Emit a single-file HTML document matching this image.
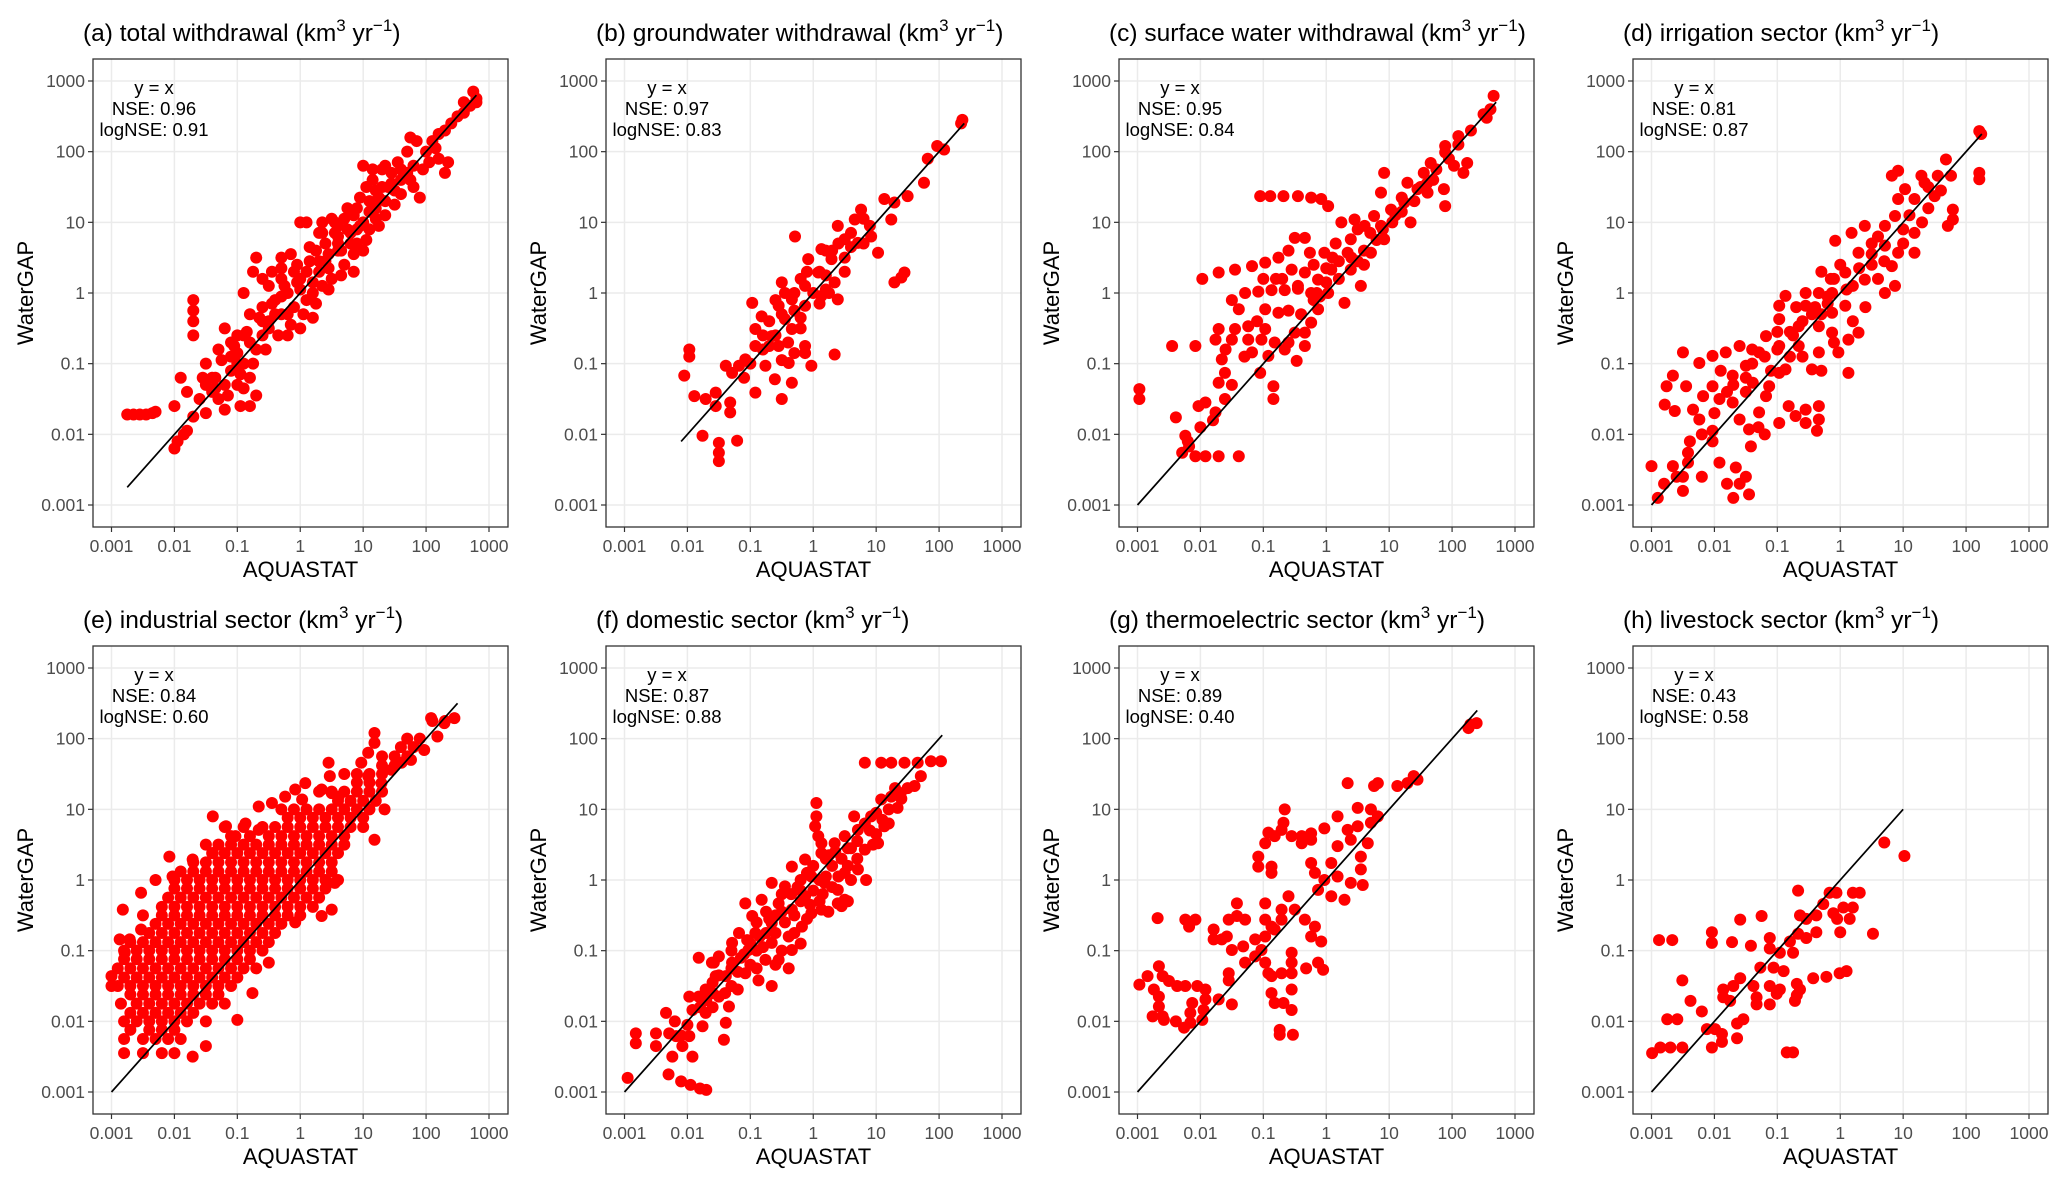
<!DOCTYPE html>
<html><head><meta charset="utf-8"><style>
html,body{margin:0;padding:0;background:#fff;}
svg{display:block;font-family:"Liberation Sans",Arial,sans-serif;}
</style></head><body>
<svg id="fig" width="2067" height="1184" viewBox="0 0 2067 1184" xmlns="http://www.w3.org/2000/svg"></svg>
<script>
// ---- data (log10 of AQUASTAT, log10 of WaterGAP) ----
const panelTitles = ["(a) total withdrawal","(b) groundwater withdrawal","(c) surface water withdrawal","(d) irrigation sector","(e) industrial sector","(f) domestic sector","(g) thermoelectric sector","(h) livestock sector"];
const nseValues = ["0.96","0.97","0.95","0.81","0.84","0.87","0.89","0.43"];
const logNseValues = ["0.91","0.83","0.84","0.87","0.60","0.88","0.40","0.58"];
const tickLabels = ["0.001","0.01","0.1","1","10","100","1000"];
const tickExponents = [-3,-2,-1,0,1,2,3];
const lineMin = [-2.75,-2.1,-3,-3,-3,-3,-3,-3];
const lineMax = [2.8,2.4,2.7,2.25,2.5,2.05,2.4,1.0];

const pointsA = [[2.75,2.85],[2.8,2.75],[2.7,2.65],[2.6,2.55],[2.5,2.5],[2.8,2.7],[2.2,2.25],[2.3,2.3],[2.1,2.15],[1.75,2.2],[1.85,2.15],[1.7,2.0],[2.05,1.85],[2.2,1.9],[2.35,1.85],[2.3,1.7],[1.95,1.75],[1.9,1.35],[1.0,1.8],[1.15,1.75],[1.3,1.75],[1.45,1.7],[1.6,1.6],[1.75,1.6],[1.4,1.5],[1.6,1.4],[1.8,1.5],[1.2,1.45],[1.05,1.5],[1.35,1.3],[1.5,1.25],[0.0,1.0],[0.1,1.0],[0.35,1.0],[0.5,1.05],[0.7,1.05],[0.85,1.1],[0.95,0.95],[0.8,0.85],[0.6,0.8],[0.4,0.7],[0.25,0.6],[0.45,0.55],[0.65,0.6],[0.9,0.7],[1.1,0.9],[1.2,1.05],[1.35,1.1],[1.0,0.6],[0.7,0.4],[0.85,0.3],[-0.3,0.5],[-0.15,0.55],[-0.45,0.3],[-0.3,0.2],[-0.1,0.3],[0.1,0.3],[0.2,0.15],[0.0,0.05],[-0.2,0.0],[-0.4,-0.1],[-0.6,0.2],[-0.6,-0.2],[-0.8,-0.3],[-0.5,-0.4],[-0.3,-0.3],[-0.1,-0.2],[0.1,-0.1],[0.2,-0.35],[0.0,-0.5],[-0.2,-0.6],[0.35,0.1],[0.5,0.2],[-0.7,0.5],[-0.75,0.3],[-0.9,0.0],[0.15,0.45],[-1.2,-0.5],[-1.0,-0.6],[-1.1,-0.9],[-1.3,-0.8],[-1.5,-1.0],[-1.4,-1.2],[-1.2,-1.3],[-0.9,-1.0],[-0.7,-0.8],[-0.8,-1.2],[-1.0,-1.3],[-1.3,-1.5],[-1.6,-1.5],[-1.8,-1.4],[-2.0,-1.6],[-1.7,-1.75],[-1.5,-1.7],[-1.2,-1.65],[-0.95,-1.6],[-1.9,-1.2],[-1.5,-1.3],[-1.35,-1.2],[-0.8,-1.6],[-1.7,-0.1],[-1.7,-0.25],[-1.7,-0.4],[-1.7,-0.6],[-1.95,-2.1],[-2.0,-2.2],[-1.85,-2.0],[-1.8,-1.95],[-2.75,-1.72],[-2.65,-1.72],[-2.55,-1.72],[-2.45,-1.72],[-2.35,-1.7],[-2.3,-1.68],[-0.9,-1.35],[-0.7,-1.45],[0.3,0.3],[0.6,0.6],[0.8,0.7],[1.0,1.0],[1.2,1.2],[1.5,1.45],[1.7,1.7],[-0.5,-0.5],[-0.8,-0.7],[-1.0,-1.0],[-0.6,-0.6],[0.45,0.35],[-0.2,-0.3],[1.1,1.3],[0.9,1.2],[1.3,1.5],[-1.1,-1.1],[-1.4,-1.4],[0.6,0.95],[0.3,0.85],[0.55,0.85],[0.75,0.9],[1.25,1.35],[1.45,1.55],[0.2,0.0],[-0.05,0.15],[0.4,0.45],[-0.4,-0.3],[-0.6,-0.4],[-0.9,-0.6],[-1.1,-0.7],[-0.3,-0.05],[-0.5,0.1],
[-1.0,-0.85],[-0.85,-0.55],[-0.65,-0.35],[-0.45,-0.15],[-0.25,0.1],[-0.05,0.4],[0.15,0.65],[0.35,0.85],[0.55,1.0],[0.75,1.2],[0.95,1.35],[1.15,1.6],[1.35,1.8],[1.55,1.85],[1.25,0.95],[1.05,0.75],[0.85,0.55],[0.65,0.25],[0.45,0.05],[0.25,-0.15],[0.05,-0.3],[-0.15,-0.45],[-0.35,-0.6],[-0.55,-0.8],[-0.75,-1.0],[-0.95,-1.15],[-1.15,-1.45],[-1.35,-1.35],[-1.55,-1.2],[-1.25,-0.95],[-1.05,-0.75],[-0.3,0.35],[0.0,0.2],[0.3,0.45],[0.6,0.7],[0.9,0.9],[1.1,1.15],[1.6,1.75],[1.8,1.8],[2.0,2.0],[2.15,2.05],[2.4,2.4],[2.6,2.7]];
const pointsB = [[2.37,2.45],[2.35,2.4],[1.97,2.08],[2.08,2.03],[1.82,1.9],[1.76,1.56],[1.5,1.37],[1.13,1.33],[1.29,1.28],[1.24,1.04],[0.76,1.18],[1.45,0.29],[1.29,0.15],[1.4,0.22],[0.66,1.04],[0.39,0.95],[0.5,0.76],[0.13,0.62],[-0.08,0.48],[0.29,0.48],[0.71,0.71],[0.92,0.8],[1.03,0.57],[-0.29,0.8],[0.08,0.29],[0.34,0.15],[0.39,-0.09],[-0.13,0.1],[-0.34,-0.09],[-0.5,0.15],[-0.55,-0.18],[-0.97,-0.14],[-0.82,-0.33],[-0.45,-0.37],[-0.13,-0.18],[0.13,-0.04],[-0.92,-0.51],[-0.66,-0.61],[-0.34,-0.51],[-0.13,-0.75],[-0.55,-0.75],[-0.92,-0.75],[-1.08,-0.94],[-0.76,-1.03],[-0.39,-0.99],[-0.03,-1.03],[0.34,-0.87],[-0.13,-0.85],[-1.29,-1.13],[-1.18,-1.03],[-0.92,-1.41],[-0.61,-1.22],[-0.34,-1.27],[-0.5,-1.5],[-1.97,-0.8],[-1.97,-0.9],[-2.05,-1.17],[-1.39,-1.03],[-1.89,-1.46],[-1.71,-1.5],[-1.55,-1.41],[-1.55,-1.6],[-1.32,-1.69],[-1.32,-1.55],[-1.76,-2.02],[-1.5,-2.12],[-1.5,-2.26],[-1.5,-2.38],[-1.21,-2.09],[-0.3,-0.25],[0.0,0.0],[0.2,0.25],[0.5,0.5],[-0.6,-0.6],[-1.0,-1.0],[-0.8,-0.8],[0.9,0.95],[0.6,0.65],[-0.2,-0.5],[-0.7,-0.4],[-0.3,0.0],[0.1,0.3],[-1.1,-1.2],[-0.4,-0.7],[-0.2,0.2],[0.2,0.05],[-0.6,-0.1],[-0.8,-0.6],[-0.5,-0.95],[0.3,0.6],[0.8,1.05],[0.5,0.3],
[-0.1,0.3],[0.2,0.6],[0.4,0.7],[0.6,0.85],[0.8,0.7],[-0.5,-0.3],[-0.2,-0.35],[-0.7,-0.75],[-0.3,-0.85],[0.1,-0.15],[0.25,0.0],[-0.45,0.0]];
const pointsC = [[2.66,2.79],[2.61,2.6],[2.55,2.48],[2.5,2.53],[2.1,2.22],[1.89,2.08],[1.89,1.99],[2.24,1.84],[2.03,1.8],[2.18,1.7],[1.66,1.84],[1.55,1.7],[1.29,1.56],[1.45,1.47],[1.61,1.42],[1.87,1.47],[1.89,1.23],[0.92,1.7],[0.87,1.42],[1.03,1.18],[1.24,1.28],[1.34,1.0],[0.76,1.09],[0.61,0.95],[0.87,0.95],[0.92,0.76],[0.71,0.57],[0.39,0.76],[0.34,0.57],[0.45,1.04],[0.24,1.0],[0.08,0.33],[0.39,0.33],[0.55,0.1],[0.29,-0.14],[0.03,0.0],[-0.13,-0.23],[-0.24,-0.42],[-0.34,-0.56],[-0.34,-0.75],[-0.5,-0.56],[-0.13,0.19],[-0.34,0.29],[-0.55,0.33],[-0.45,0.1],[-1.05,1.37],[-0.89,1.37],[-0.68,1.37],[-0.45,1.37],[-0.24,1.35],[-0.08,1.33],[0.03,1.23],[-0.5,0.78],[-0.34,0.78],[-0.26,0.57],[-0.03,0.57],[-1.97,0.2],[-1.71,0.29],[-1.45,0.33],[-1.18,0.38],[-0.97,0.43],[-0.76,0.5],[-1.29,0.0],[-1.08,0.02],[-0.87,0.04],[-0.66,0.04],[-0.45,0.06],[-0.24,0.0],[-1.39,-0.23],[-1.24,-0.47],[-0.97,-0.23],[-0.76,-0.28],[-0.97,-0.51],[-1.71,-0.51],[-1.45,-0.51],[-1.76,-0.66],[-1.5,-0.66],[-1.24,-0.66],[-1.03,-0.66],[-0.82,-0.7],[-0.6,-0.7],[-1.18,-0.84],[-0.92,-0.89],[-0.66,-0.8],[-2.45,-0.75],[-2.08,-0.75],[-1.66,-0.94],[-1.61,-1.13],[-1.71,-1.27],[-1.61,-1.5],[-1.76,-1.69],[-1.05,-1.13],[-0.84,-1.32],[-0.84,-1.5],[-0.47,-0.96],[-2.03,-1.6],[-1.92,-1.55],[-2.39,-1.76],[-2.97,-1.36],[-2.97,-1.5],[-2.24,-2.02],[-2.29,-2.26],[-2.08,-2.31],[-1.92,-2.31],[-1.71,-2.31],[-1.39,-2.31],[-2.18,-2.17],[1.1,1.1],[1.5,1.5],[1.7,1.6],[0.2,0.2],[-0.1,-0.05],[0.6,0.6],[1.2,1.35],[0.1,0.5],[-0.7,0.2],[-1.5,-0.1],[-0.2,0.4],[0.5,0.45],[0.15,0.7],[0.0,0.35],[-0.6,-0.25],[-1.6,-0.8],[-1.0,0.2],[-0.15,0.0],[0.8,0.75],
[0.9,0.9],[1.05,1.0],[1.2,1.15],[1.4,1.3],[1.6,1.55],[1.75,1.75],[1.95,1.9],[2.1,2.1],[2.3,2.3],[0.6,0.4],[0.4,0.5],[0.2,0.45],[0.0,0.15],[-0.2,-0.1],[-0.4,-0.3],[0.7,0.85],[0.5,0.9],[-0.6,0.6],[-0.8,0.2],[-1.1,-0.4],[-1.3,-0.9],[-1.5,-1.3],[-1.8,-1.8],[-2.0,-1.9],[-2.2,-2.1]];
const pointsD = [[2.21,2.29],[2.24,2.25],[2.21,1.7],[2.21,1.61],[1.68,1.89],[1.76,1.66],[1.55,1.66],[1.29,1.66],[0.92,1.73],[0.82,1.66],[1.03,1.47],[1.34,1.56],[1.5,1.37],[1.18,1.33],[0.92,1.33],[1.79,1.18],[1.79,1.04],[1.71,0.95],[0.87,1.09],[0.71,0.95],[0.39,0.95],[0.18,0.85],[-0.08,0.74],[1.18,0.85],[1.18,0.57],[0.92,0.57],[0.71,0.67],[0.82,0.38],[0.87,0.1],[0.71,0.0],[0.39,0.19],[0.29,0.57],[0.08,0.29],[-0.13,0.0],[-0.34,0.0],[-0.55,0.0],[-0.87,-0.04],[-0.97,-0.18],[-0.55,-0.18],[-0.13,-0.28],[0.08,-0.18],[0.29,-0.56],[0.13,-0.66],[0.13,-1.13],[-0.13,-0.56],[-0.34,-0.47],[-0.66,-0.47],[-0.97,-0.37],[-1.18,-0.61],[-1.29,-0.84],[-0.97,-0.75],[-0.66,-0.75],[-0.34,-0.84],[-0.03,-0.84],[-0.45,-1.08],[-0.87,-1.08],[-1.6,-0.75],[-1.82,-0.84],[-2.03,-0.89],[-2.24,-0.99],[-2.5,-0.84],[-1.5,-1.03],[-1.71,-1.17],[-1.39,-1.27],[-1.13,-1.32],[-0.97,-1.13],[-2.76,-1.32],[-2.45,-1.32],[-2.66,-1.17],[-2.79,-1.58],[-2.63,-1.67],[-2.34,-1.65],[-2.18,-1.46],[-2.03,-1.32],[-1.92,-1.5],[-1.71,-1.55],[-2.24,-1.79],[-1.6,-1.79],[-1.45,-1.93],[-1.42,-2.17],[-1.29,-1.69],[-1.18,-1.46],[-0.82,-1.6],[-0.97,-1.84],[-0.71,-1.74],[-0.55,-1.65],[-0.34,-1.6],[-0.34,-1.79],[-0.37,-1.95],[-0.55,-1.84],[-2.03,-1.95],[-2.03,-2.1],[-2.39,-2.1],[-2.42,-2.26],[-2.42,-2.4],[-3.0,-2.45],[-2.66,-2.45],[-1.92,-2.4],[-1.66,-2.47],[-2.9,-2.9],[-2.8,-2.7],[-2.5,-2.8],[-2.5,-2.6],[-2.2,-2.6],[-1.7,-2.9],[-1.6,-2.7],[-1.5,-2.6],[-1.45,-2.85],[-1.8,-2.7],[0.5,0.4],[0.2,0.1],[-0.3,-0.3],[-0.6,-0.4],[-1.0,-0.8],[-0.8,-0.9],[-1.4,-1.0],[-1.1,-1.1],[0.6,0.8],[1.0,0.9],[1.4,1.5],[0.0,0.4],[-0.3,0.3],[-1.2,-2.0],[-1.3,-1.9],[-0.2,-0.15],[-0.45,-0.3],[-0.75,-0.6],[-1.5,-1.4],[-1.7,-1.3],[-1.9,-1.1],[-0.15,0.2],[0.5,0.7],[1.4,1.2],[1.6,1.45],
[0.3,0.35],[0.5,0.55],[0.1,0.05],[-0.1,0.2],[-0.2,-0.05],[-0.4,-0.2],[-0.7,-0.2],[-0.8,-0.55],[-1.0,-0.55],[-1.2,-0.9],[-1.4,-0.8],[-1.5,-1.2],[-1.8,-1.4],[-2.0,-1.7],[-2.2,-2.0],[-2.6,-2.6],[0.7,0.45],[1.0,0.7],[1.1,1.1],[1.3,1.0],[0.6,0.2],[0.4,-0.2],[0.2,-0.4],[-0.1,-0.7],[-0.6,-0.9],[-0.3,-1.1]];
const pointsE = [[2.45,2.29],[2.29,2.22],[2.08,2.29],[2.18,2.03],[1.97,1.84],[1.76,1.7],[1.61,1.66],[1.45,1.56],[1.18,2.08],[1.18,1.94],[1.08,1.8],[0.97,1.66],[1.08,1.47],[1.29,1.37],[1.34,1.0],[1.18,0.57],[0.45,1.66],[0.47,1.47],[0.5,1.23],[0.34,1.28],[0.61,1.18],[0.08,1.37],[-0.08,1.28],[-0.24,1.18],[-0.45,1.09],[-0.66,1.04],[0.03,1.14],[-1.39,0.9],[-1.18,0.76],[-1.03,0.62],[-0.87,0.8],[-0.66,0.71],
[-0.3,1.0],[-0.1,1.0],[0.1,1.0],[0.3,1.0],[0.5,1.0],[0.7,1.0],[0.9,1.0],[1.1,1.0],
[-1.2,0.75],[-0.9,0.75],[-0.6,0.75],[-0.4,0.75],[-0.2,0.75],[0.0,0.75],[0.2,0.75],[0.4,0.75],[0.6,0.75],[0.8,0.75],[1.0,0.75],
[-1.5,0.5],[-1.3,0.5],[-1.1,0.5],[-0.9,0.5],[-0.7,0.5],[-0.5,0.5],[-0.3,0.5],[-0.1,0.5],[0.1,0.5],[0.3,0.5],[0.5,0.5],[0.7,0.5],
[-1.7,0.25],[-1.5,0.25],[-1.3,0.25],[-1.1,0.25],[-0.9,0.25],[-0.7,0.25],[-0.5,0.25],[-0.3,0.25],[-0.1,0.25],[0.1,0.25],[0.3,0.25],[0.5,0.25],
[-2.3,0.0],[-2.0,0.0],[-1.8,0.0],[-1.6,0.0],[-1.4,0.0],[-1.2,0.0],[-1.0,0.0],[-0.8,0.0],[-0.6,0.0],[-0.4,0.0],[-0.2,0.0],[0.0,0.0],[0.2,0.0],[0.4,0.0],[0.6,0.0],
[-2.1,-0.25],[-1.9,-0.25],[-1.7,-0.25],[-1.5,-0.25],[-1.3,-0.25],[-1.1,-0.25],[-0.9,-0.25],[-0.7,-0.25],[-0.5,-0.25],[-0.3,-0.25],[-0.1,-0.25],[0.1,-0.25],[0.3,-0.25],
[-2.5,-0.5],[-2.2,-0.5],[-2.0,-0.5],[-1.8,-0.5],[-1.6,-0.5],[-1.4,-0.5],[-1.2,-0.5],[-1.0,-0.5],[-0.8,-0.5],[-0.6,-0.5],[-0.4,-0.5],[-0.2,-0.5],[0.0,-0.5],
[-2.4,-0.75],[-2.2,-0.75],[-2.0,-0.75],[-1.8,-0.75],[-1.6,-0.75],[-1.4,-0.75],[-1.2,-0.75],[-1.0,-0.75],[-0.8,-0.75],[-0.6,-0.75],[-0.4,-0.75],
[-2.8,-1.0],[-2.6,-1.0],[-2.4,-1.0],[-2.2,-1.0],[-2.0,-1.0],[-1.8,-1.0],[-1.6,-1.0],[-1.4,-1.0],[-1.2,-1.0],[-1.0,-1.0],[-0.8,-1.0],[-0.6,-1.0],
[-2.9,-1.25],[-2.7,-1.25],[-2.5,-1.25],[-2.3,-1.25],[-2.1,-1.25],[-1.9,-1.25],[-1.7,-1.25],[-1.5,-1.25],[-1.3,-1.25],[-1.1,-1.25],[-0.9,-1.25],[-0.7,-1.25],
[-2.9,-1.5],[-2.7,-1.5],[-2.5,-1.5],[-2.3,-1.5],[-2.1,-1.5],[-1.9,-1.5],[-1.7,-1.5],[-1.5,-1.5],[-1.3,-1.5],[-1.1,-1.5],
[-2.85,-1.75],[-2.6,-1.75],[-2.4,-1.75],[-2.2,-1.75],[-2.0,-1.75],[-1.8,-1.75],[-1.6,-1.75],[-1.4,-1.75],[-1.2,-1.75],
[-2.8,-2.0],[-2.6,-2.0],[-2.4,-2.0],[-2.2,-2.0],[-2.0,-2.0],[-1.8,-2.0],[-1.5,-2.0],
[-2.8,-2.25],[-2.5,-2.25],[-2.3,-2.25],[-2.1,-2.25],[-1.9,-2.25],
[-2.8,-2.45],[-2.5,-2.45],[-2.2,-2.45],[-2.0,-2.45],
[-0.2,0.88],[0.0,0.88],[0.2,0.88],[0.4,0.88],[0.6,0.88],[0.8,0.88],[1.0,0.88],
[-1.1,0.62],[-0.8,0.62],[-0.5,0.62],[-0.3,0.62],[-0.1,0.62],[0.1,0.62],[0.3,0.62],[0.5,0.62],[0.7,0.62],
[-1.4,0.38],[-1.2,0.38],[-1.0,0.38],[-0.8,0.38],[-0.6,0.38],[-0.4,0.38],[-0.2,0.38],[0.0,0.38],[0.2,0.38],[0.4,0.38],[0.6,0.38],
[-1.9,0.12],[-1.7,0.12],[-1.5,0.12],[-1.3,0.12],[-1.1,0.12],[-0.9,0.12],[-0.7,0.12],[-0.5,0.12],[-0.3,0.12],[-0.1,0.12],[0.1,0.12],[0.3,0.12],[0.5,0.12],
[-2.0,-0.12],[-1.8,-0.12],[-1.6,-0.12],[-1.4,-0.12],[-1.2,-0.12],[-1.0,-0.12],[-0.8,-0.12],[-0.6,-0.12],[-0.4,-0.12],[-0.2,-0.12],[0.0,-0.12],[0.2,-0.12],[0.4,-0.12],
[-2.2,-0.38],[-2.0,-0.38],[-1.8,-0.38],[-1.6,-0.38],[-1.4,-0.38],[-1.2,-0.38],[-1.0,-0.38],[-0.8,-0.38],[-0.6,-0.38],[-0.4,-0.38],[-0.2,-0.38],[0.0,-0.38],[0.2,-0.38],
[-2.3,-0.62],[-2.1,-0.62],[-1.9,-0.62],[-1.7,-0.62],[-1.5,-0.62],[-1.3,-0.62],[-1.1,-0.62],[-0.9,-0.62],[-0.7,-0.62],[-0.5,-0.62],[-0.3,-0.62],
[-2.7,-0.88],[-2.5,-0.88],[-2.3,-0.88],[-2.1,-0.88],[-1.9,-0.88],[-1.7,-0.88],[-1.5,-0.88],[-1.3,-0.88],[-1.1,-0.88],[-0.9,-0.88],[-0.7,-0.88],[-0.5,-0.88],
[-2.8,-1.12],[-2.6,-1.12],[-2.4,-1.12],[-2.2,-1.12],[-2.0,-1.12],[-1.8,-1.12],[-1.6,-1.12],[-1.4,-1.12],[-1.2,-1.12],[-1.0,-1.12],[-0.8,-1.12],
[-2.8,-1.38],[-2.6,-1.38],[-2.4,-1.38],[-2.2,-1.38],[-2.0,-1.38],[-1.8,-1.38],[-1.6,-1.38],[-1.4,-1.38],[-1.2,-1.38],[-1.0,-1.38],
[-2.7,-1.62],[-2.5,-1.62],[-2.3,-1.62],[-2.1,-1.62],[-1.9,-1.62],[-1.7,-1.62],[-1.5,-1.62],[-1.3,-1.62],
[-2.7,-1.88],[-2.5,-1.88],[-2.3,-1.88],[-2.1,-1.88],[-1.9,-1.88],[-1.7,-1.88],
[-2.7,-2.12],[-2.4,-2.12],[-2.2,-2.12],[-2.0,-2.12],
[0.3,1.25],[0.5,1.25],[0.7,1.25],[0.9,1.25],[1.1,1.25],[1.3,1.25],[0.7,1.5],[0.9,1.5],[1.1,1.5],[1.3,1.5],[1.3,1.75],[1.5,1.75],[1.7,1.75],[1.7,2.0],[1.9,2.0],[2.1,2.25],[2.3,2.25],[0.6,1.12],[0.8,1.12],[1.0,1.12],[1.2,1.12],[0.9,1.38],[1.1,1.38],[1.3,1.62],[1.5,1.62],[1.6,1.88],[1.8,1.88],
[-2.53,-0.18],[-2.82,-0.42],[-2.53,-0.7],[-2.87,-0.84],[-2.71,-0.84],[-2.79,-1.03],[-3.0,-1.36],[-3.0,-1.5],[-1.5,-2.35],[-1.71,-2.5],[0.5,-0.42],[0.34,-0.51],[-0.08,-0.6],[0.55,-0.04],[-0.5,-1.17],[-0.76,-1.6],[-1.0,-1.98],[-2.08,0.33],[-2.03,0.05],[-1.71,0.29],[-1.39,0.38]];
const pointsF = [[0.82,1.66],[1.08,1.66],[1.24,1.66],[1.45,1.66],[1.66,1.66],[1.87,1.68],[2.03,1.68],[1.71,1.47],[1.61,1.33],[1.39,1.23],[1.24,1.18],[1.34,1.02],[0.05,1.09],[0.05,0.9],[0.03,0.76],[0.08,0.62],[0.13,0.52],[1.03,0.52],[1.13,0.76],[1.08,1.14],[0.92,0.9],[0.82,0.8],[0.71,0.71],[0.5,0.62],[0.34,0.52],[0.13,0.38],[0.82,0.43],[0.71,0.15],[0.84,0.0],[0.5,0.1],[0.39,-0.14],[0.18,-0.04],[-0.03,0.05],[-0.13,0.29],[-0.34,0.19],[-0.66,-0.04],[-0.45,-0.09],[-0.13,-0.23],[0.13,-0.42],[0.39,-0.33],[0.5,-0.28],[-0.03,-0.47],[-0.18,-0.66],[-0.34,-0.42],[-0.55,-0.33],[-0.82,-0.28],[-1.08,-0.33],[-0.97,-0.51],[-0.66,-0.61],[-0.39,-0.8],[-0.34,-0.99],[-0.66,-0.89],[-0.92,-0.75],[-1.18,-0.75],[-1.29,-0.89],[-1.03,-0.99],[-0.76,-1.13],[-0.55,-1.13],[-0.39,-1.25],[-1.5,-1.08],[-1.29,-1.17],[-1.08,-1.32],[-0.87,-1.42],[-0.66,-1.5],[-1.39,-1.36],[-1.55,-1.36],[-1.61,-1.17],[-1.71,-1.55],[-1.5,-1.65],[-1.34,-1.79],[-1.39,-2.02],[-1.82,-1.65],[-1.97,-1.65],[-1.92,-1.84],[-1.71,-1.88],[-1.76,-2.07],[-1.97,-2.21],[-2.08,-2.35],[-2.18,-2.21],[-1.82,-1.1],[-1.58,-1.17],[-2.34,-1.88],[-2.82,-2.17],[-2.82,-2.31],[-2.5,-2.17],[-2.5,-2.35],[-2.29,-2.17],[-2.24,-2.5],[-1.92,-2.5],[-1.42,-2.26],[-2.3,-2.75],[-2.1,-2.85],[-1.95,-2.9],[-1.8,-2.95],[-1.7,-2.97],[-2.95,-2.8],[0.6,0.45],[0.3,0.2],[0.0,-0.15],[-0.3,-0.5],[-0.6,-0.75],[-0.9,-1.0],[-1.2,-1.3],[-0.2,-0.3],[0.2,0.05],[0.45,0.3],[-1.0,-1.2],[-1.4,-1.6],[-1.6,-1.8],[-2.0,-2.05],[0.9,0.7],[1.2,1.0],[1.4,1.15],[-0.45,-0.6],[-0.8,-0.95],[-1.1,-1.05],[0.1,0.0],[-0.1,0.1],[0.55,0.2],[0.24,-0.45],[0.55,-0.3],[0.45,-0.37],[-0.5,-0.2],[-0.2,-0.9],[-1.6,-1.45],[-1.2,-1.55],[-0.9,-0.6],[0.3,-0.1],[1.0,0.95],[0.65,0.9],[0.25,0.35],[0.4,0.05],[-0.25,-0.1],[-0.6,-0.5],[-0.75,-0.75],[-1.05,-0.85],[-1.3,-1.0],[-1.3,-1.5],[-1.6,-1.6],[-1.8,-1.8],[-2.2,-2.0],[0.7,0.3],[1.0,0.65],[1.2,0.8],[1.5,1.3],[0.15,-0.2],[-0.05,-0.35],[-0.5,-1.0],[-0.9,-1.25],
[0.7,0.55],[0.55,0.45],[0.35,0.4],[0.2,0.3],[0.0,0.2],[-0.2,0.0],[-0.35,-0.2],[-0.5,-0.45],[-0.7,-0.55],[-0.85,-0.8],[-1.0,-0.9],[-1.15,-1.1],[-1.3,-1.25],[-1.5,-1.35],[-1.7,-1.7],[-2.1,-2.2],[0.1,-0.3],[-0.1,-0.55],[-0.3,-0.75],[-0.6,-1.2],[0.6,0.0],[1.1,0.85],[1.3,1.3],[0.95,0.5],[-0.2,-0.15],[-0.75,-0.45]];
const pointsG = [[2.39,2.22],[2.26,2.15],[2.29,2.2],[1.39,1.47],[1.45,1.42],[1.29,1.37],[1.13,1.33],[0.34,1.37],[0.82,1.37],[0.76,1.33],[0.5,1.02],[0.71,1.0],[0.82,0.9],[0.71,0.81],[0.5,0.76],[0.34,0.71],[0.39,0.57],[0.18,0.48],[0.18,0.9],[-0.03,0.73],[0.66,0.52],[0.55,0.33],[0.55,0.15],[0.58,-0.07],[0.39,-0.04],[0.18,0.05],[0.08,0.24],[-0.03,0.0],[-0.13,-0.14],[0.08,-0.23],[0.29,-0.28],[-0.18,0.1],[-0.24,0.24],[-0.24,0.57],[-0.66,1.0],[-0.68,0.81],[-0.71,0.71],[-0.82,0.62],[-0.55,0.62],[-0.39,0.62],[-0.24,0.66],[-0.39,0.52],[-0.92,0.67],[-0.97,0.52],[-1.08,0.33],[-1.08,0.19],[-0.87,0.19],[-0.87,0.1],[-0.6,-0.23],[-0.71,-0.42],[-0.71,-0.56],[-0.5,-0.42],[-0.34,-0.56],[-0.18,-0.66],[-0.24,-0.8],[-0.08,-0.87],[-0.97,-0.33],[-0.97,-0.56],[-0.87,-0.66],[-1.42,-0.33],[-1.42,-0.51],[-1.29,-0.56],[-1.55,-0.56],[-1.58,-0.8],[-1.79,-0.7],[-1.79,-0.84],[-1.66,-0.84],[-1.5,-0.99],[-1.32,-0.94],[-1.13,-0.84],[-0.97,-0.8],[-0.82,-0.7],[-1.03,-0.99],[-1.13,-1.08],[-1.29,-1.17],[-0.97,-1.17],[-0.92,-1.32],[-0.87,-1.36],[-0.55,-1.03],[-0.55,-1.17],[-0.55,-1.32],[-0.55,-1.55],[-0.71,-1.32],[-0.87,-1.6],[-0.82,-1.74],[-0.68,-1.74],[-0.55,-1.84],[-0.74,-2.12],[-0.74,-2.19],[-0.53,-2.19],[-0.32,-1.25],[-0.13,-1.17],[-0.05,-1.27],[-1.55,-1.32],[-1.55,-1.42],[-1.5,-1.76],[-1.71,-1.69],[-2.68,-0.54],[-2.24,-0.56],[-2.08,-0.56],[-2.18,-0.66],[-2.66,-1.22],[-2.84,-1.36],[-2.97,-1.48],[-2.74,-1.55],[-2.6,-1.36],[-2.5,-1.43],[-2.37,-1.5],[-2.24,-1.5],[-2.05,-1.5],[-1.92,-1.55],[-1.92,-1.69],[-1.95,-1.84],[-2.66,-1.65],[-2.66,-1.79],[-2.76,-1.93],[-2.6,-1.93],[-2.39,-2.0],[-2.58,-1.98],[-2.26,-2.09],[-2.16,-2.02],[-2.13,-1.74],[-2.16,-1.88],[-1.97,-1.98]];
const pointsH = [[0.7,0.53],[1.02,0.34],[-0.67,-0.15],[-0.17,-0.18],[-0.06,-0.18],[0.2,-0.18],[0.31,-0.18],[-0.27,-0.34],[-0.11,-0.47],[0.05,-0.39],[0.2,-0.39],[-0.05,-0.55],[0.15,-0.55],[-0.64,-0.5],[-0.54,-0.55],[-0.38,-0.5],[-1.25,-0.51],[-1.59,-0.56],[-2.04,-0.74],[-2.04,-0.89],[-2.88,-0.85],[-2.67,-0.85],[0.52,-0.76],[0.0,-0.74],[-0.38,-0.74],[-0.54,-0.82],[-0.67,-0.76],[-0.8,-0.87],[-1.12,-0.82],[-1.12,-0.97],[-0.96,-1.03],[-0.75,-1.03],[-1.72,-0.88],[-1.42,-0.93],[-1.27,-1.24],[-1.06,-1.24],[-0.9,-1.29],[-1.12,-1.5],[-0.96,-1.55],[-1.38,-1.5],[-1.33,-1.66],[-1.33,-1.76],[-1.12,-1.76],[-1.01,-1.61],[-1.59,-1.39],[-1.7,-1.5],[-1.86,-1.55],[-1.86,-1.66],[-1.75,-1.71],[-2.51,-1.42],[-2.38,-1.71],[-2.2,-1.86],[-2.75,-1.97],[-2.59,-1.97],[-2.12,-2.11],[-1.99,-2.11],[-1.88,-2.18],[-1.88,-2.29],[-1.64,-2.03],[-1.64,-2.24],[-1.54,-1.97],[-0.69,-1.47],[-0.43,-1.39],[-0.22,-1.37],[-0.01,-1.32],[0.1,-1.29],[-0.69,-1.63],[-0.72,-1.71],[-0.64,-1.55],[-2.86,-2.37],[-2.7,-2.37],[-2.51,-2.37],[-2.04,-2.37],[-2.99,-2.45],[-0.85,-2.44],[-0.75,-2.44]];
const allPoints = [pointsA,pointsB,pointsC,pointsD,pointsE,pointsF,pointsG,pointsH];

// ---- layout ----
const NS = "http://www.w3.org/2000/svg";
const svg = document.getElementById('fig');
const colLeft = [93, 606, 1119, 1633];
const rowTop = [59, 646];
const PW = 415, PH = 468;
function mk(tag, attrs, parent){const e=document.createElementNS(NS,tag);for(const k in attrs)e.setAttribute(k,attrs[k]);(parent||svg).appendChild(e);return e;}

allPoints.forEach((pts, i) => {
  const L = colLeft[i%4], T = rowTop[Math.floor(i/4)];
  const xs = v => L + 18.5 + (v + 3) * (PW - 37.5) / 6;
  const ys = v => T + 22 + (3 - v) * (PH - 44) / 6;
  const g = mk('g', {});
  
  
  const title = mk('text', {x: L - 10, y: T - 18, 'font-size': 24.5, fill: '#000'}, g);
  
  
  title.textContent = panelTitles[i] + ' (km';
  const s1 = mk('tspan', {dy: -10, 'font-size': 17}, title); s1.textContent = '3';
  const s2 = mk('tspan', {dy: 10}, title); s2.textContent = ' yr';
  const s3 = mk('tspan', {dy: -10, 'font-size': 17}, title); s3.textContent = '\u22121';
  const s4 = mk('tspan', {dy: 10}, title); s4.textContent = ')';
  const bg = mk('rect', {x: L, y: T, width: PW, height: PH, fill: '#fff'}, g);
  
  
  tickExponents.forEach((e, k) => {
    const gx = mk('line', {x1: xs(e), x2: xs(e), y1: T, y2: T + PH, stroke: '#ebebeb', 'stroke-width': 1.5}, g);
    
    
    const gy = mk('line', {x1: L, x2: L + PW, y1: ys(e), y2: ys(e), stroke: '#ebebeb', 'stroke-width': 1.5}, g);
    
    
    mk('line', {x1: xs(e), x2: xs(e), y1: T + PH, y2: T + PH + 5, stroke: '#333', 'stroke-width': 1.2}, g);
    mk('line', {x1: L - 5, x2: L, y1: ys(e), y2: ys(e), stroke: '#333', 'stroke-width': 1.2}, g);
    const xl = mk('text', {x: xs(e), y: T + PH + 25, 'font-size': 17.5, fill: '#4d4d4d', 'text-anchor': 'middle'}, g);
    
    
    xl.textContent = tickLabels[k];
    const yl = mk('text', {x: L - 8, y: ys(e) + 6, 'font-size': 17.5, fill: '#4d4d4d', 'text-anchor': 'end'}, g);
    
    
    yl.textContent = tickLabels[k];
  });
  pts.forEach(p => {
    const c = mk('circle', {cx: xs(p[0]), cy: ys(p[1]), r: 6, fill: '#ff0000'}, g);
    
    
  });
  const ln = mk('line', {x1: xs(lineMin[i]), y1: ys(lineMin[i]), x2: xs(lineMax[i]), y2: ys(lineMax[i]), stroke: '#000', 'stroke-width': 1.7}, g);
  
  
  const border = mk('rect', {x: L, y: T, width: PW, height: PH, fill: 'none', stroke: '#333', 'stroke-width': 1.3}, g);
  
  
  const lines = ['y = x', 'NSE: ' + nseValues[i], 'logNSE: ' + logNseValues[i]];
  lines.forEach((t, k) => {
    const a = mk('text', {x: L + 61, y: T + 35 + k * 21, 'font-size': 18.5, fill: '#000', 'text-anchor': 'middle'}, g);
    
    
    a.textContent = t;
  });
  const xt = mk('text', {x: L + PW / 2, y: T + PH + 50, 'font-size': 22, fill: '#000', 'text-anchor': 'middle'}, g);
  
  
  xt.textContent = 'AQUASTAT';
  const yt = mk('text', {x: 0, y: 0, 'font-size': 22, fill: '#000', 'text-anchor': 'middle', transform: `translate(${L - 60},${T + PH / 2}) rotate(-90)`}, g);
  
  
  yt.textContent = 'WaterGAP';
});
</script>
</body></html>
